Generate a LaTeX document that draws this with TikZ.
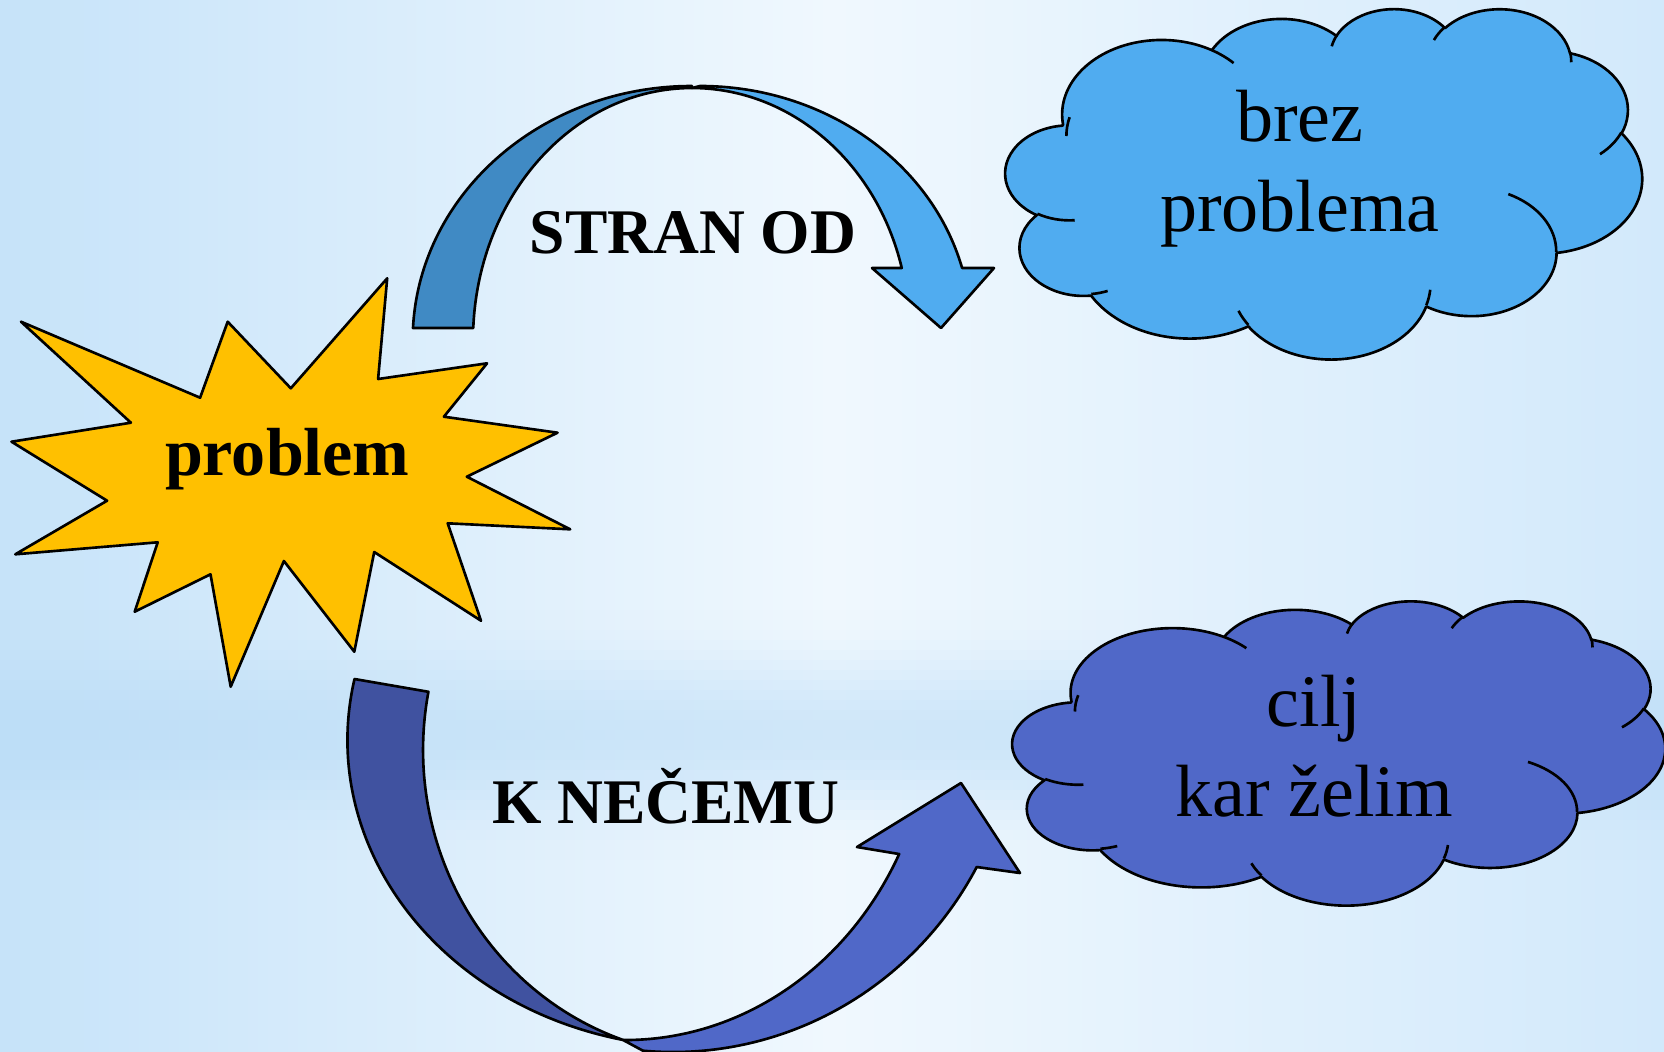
\documentclass[tikz,border=0pt]{standalone}
\usepackage{fontspec}
\setmainfont{Liberation Serif}
\definecolor{bgL}{RGB}{198,227,249}
\definecolor{bgM}{RGB}{240,248,254}
\definecolor{bgR}{RGB}{210,233,251}
\definecolor{bandC}{RGB}{182,218,246}
\definecolor{starC}{RGB}{255,192,0}
\definecolor{topDark}{RGB}{64,138,196}
\definecolor{topLight}{RGB}{80,172,240}
\definecolor{botDark}{RGB}{64,82,160}
\definecolor{botLight}{RGB}{80,104,200}
\newcommand{\drawcloud}[1]{%
  \draw[outl, fill=#1] (9.028,33.264)
    arc[start angle=172.255, delta angle=128.115, x radius=15.632, y radius=21.273]
    arc[start angle=-152.02, delta angle=106.58, x radius=12.345, y radius=16.822]
    arc[start angle=-153.49, delta angle=116.16, x radius=10.104, y radius=13.762]
    arc[start angle=-139.70, delta angle=129.49, x radius=11.243, y radius=15.266]
    arc[start angle=-74.77, delta angle=97.98, x radius=12.345, y radius=16.836]
    arc[start angle=-37.53, delta angle=119.39, x radius=15.683, y radius=21.343]
    arc[start angle=0.46, delta angle=121.52, x radius=13.391, y radius=18.211]
    arc[start angle=16.84, delta angle=129.40, x radius=15.630, y radius=21.331]
    arc[start angle=58.99, delta angle=91.20, x radius=17.870, y radius=24.405]
    arc[start angle=83.31, delta angle=139.81, x radius=10.093, y radius=13.699]
    arc[start angle=120.35, delta angle=143.76, x radius=10.058, y radius=13.762]
    -- cycle;
  \draw[outl] (10.863,60.595) arc[start angle=85.546, delta angle=34.80, x radius=10.058, y radius=13.762];
  \draw[outl] (16.037,80.785) arc[start angle=68.24, delta angle=15.07, x radius=10.093, y radius=13.699];
  \draw[outl] (38.144,90.486) arc[start angle=146.24, delta angle=12.23, x radius=15.630, y radius=21.331];
  \draw[outl] (66.729,80.442) arc[start angle=4.738, delta angle=12.10, x radius=15.630, y radius=21.331];
  \draw[outl] (79.002,53.134) arc[start angle=-64.03, delta angle=64.49, x radius=13.391, y radius=18.211];
  \draw[outl] (96.755,35.542) arc[start angle=23.21, delta angle=26.42, x radius=12.345, y radius=16.836];
  \draw[outl] (88.713,12.560) arc[start angle=-10.21, delta angle=11.03, x radius=11.243, y radius=15.266];
  \draw[outl] (67.310,9.148) arc[start angle=-156.29, delta angle=16.59, x radius=11.243, y radius=15.266];
  \draw[outl] (51.252,10.926) arc[start angle=-167.73, delta angle=14.24, x radius=10.104, y radius=13.762];
  \draw[outl] (32.421,12.044) arc[start angle=-59.63, delta angle=16, x radius=15.632, y radius=21.273];
  \draw[outl] (9.553,36.549) arc[start angle=180, delta angle=14.62, x radius=15.632, y radius=21.273];
}
\begin{document}
\begin{tikzpicture}[x=0.01cm, y=-0.01cm,
  outl/.style={draw=black, line width=0.75pt, line join=round},
  lbl/.style={anchor=base, inner sep=0pt, font=\fontsize{18.07}{21}\selectfont\bfseries},
  probtxt/.style={anchor=base, inner sep=0pt, font=\fontsize{19.35}{23}\selectfont\bfseries},
  cloudtxt/.style={anchor=base, inner sep=0pt, align=center, font=\fontsize{21.05}{25.6}\selectfont}]
\useasboundingbox (0,0) rectangle (1664,1051);
\clip (0,0) rectangle (1664,1051);
% background
\shade[left color=bgL, right color=bgR, middle color=bgM] (0,0) rectangle (1664,1051);
\foreach \i in {0,...,24} {
  \pgfmathsetmacro{\op}{0.55*sin(180*(\i+0.5)/25)^2}
  \fill[bandC, fill opacity=\op] (0,{610+10*\i}) rectangle (1664,{620+10*\i});
}
% star
\draw[outl, fill=starC] (21.0,321.7) -- (200.1,397.7) -- (227.7,321.7) -- (290.8,388.3)
  -- (387.2,278.3) -- (378.1,379) -- (487.1,363.3) -- (443.9,416.7) -- (557.5,432.7)
  -- (466.8,476.7) -- (570.2,529.3) -- (447.7,523.3) -- (481.0,620.7) -- (374.2,552)
  -- (354.3,651.7) -- (283.9,561) -- (230.7,686.7) -- (210.5,574.3) -- (134.7,611.7)
  -- (157.7,542.3) -- (15.3,554.3) -- (107.1,500.7) -- (11.5,441.7) -- (130.9,422.7) -- cycle;
% top arrow
\draw[outl, fill=topDark] (413.0,328) arc[start angle=182.71, end angle=270, x radius=279.3, y radius=254]
  -- (692,88) arc[start angle=270, end angle=182.73, x radius=219, y radius=252] -- cycle;
\draw[outl, fill=topLight] (692,88) arc[start angle=270, end angle=345.15, x radius=217, y radius=242]
  -- (872,268) -- (941,328) -- (994,268) -- (962.1,268)
  arc[start angle=345.28, end angle=270, x radius=271, y radius=244] -- cycle;
% bottom arrow
\draw[outl, fill=botDark] (354.5,679) arc[start angle=191.44, end angle=102.6, x radius=352.5, y radius=307.4]
  arc[start angle=109.06, end angle=190.89, x radius=297, y radius=307] -- cycle;
\draw[outl, fill=botLight] (623.1,1040) arc[start angle=90.4, end angle=26.83, x radius=307, y radius=339]
  -- (857,847) -- (961,783) -- (1020,873) -- (976.7,867)
  arc[start angle=28.32, end angle=95, x radius=345, y radius=352] -- cycle;
% clouds
\begin{scope}[xshift=10.05cm, yshift=-0.08cm, x=0.0636cm, y=-0.035cm]
  \drawcloud{topLight}
\end{scope}
\begin{scope}[xshift=10.12cm, yshift=-6.0cm, x=0.0652cm, y=-0.0304cm]
  \drawcloud{botLight}
\end{scope}
% texts
\node[probtxt] (prob) at (287.4,475) {problem};
\node[lbl] (stran) at (693,253.3) {STRAN OD};
\node[lbl] (necemu) at (666,823.3) {K NEČEMU};
\node[cloudtxt] (brez) at (1300,231.7) {brez\\problema};
\node[cloudtxt] (cilj) at (1314,816.7) {cilj\\kar želim};
\end{tikzpicture}
\end{document}
